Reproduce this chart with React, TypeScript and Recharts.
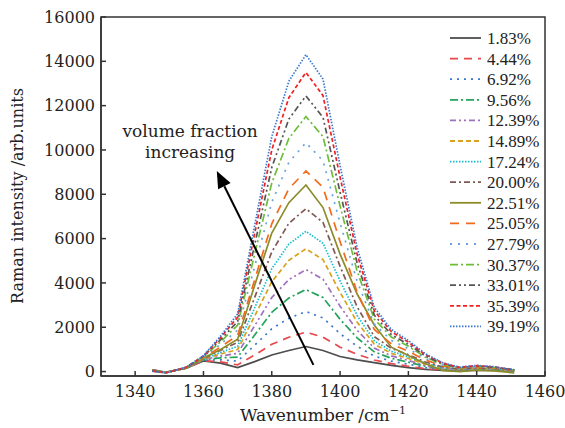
import React from "react";
import {
  LineChart,
  Line,
  XAxis,
  YAxis,
  ReferenceLine,
  ReferenceArea,
  ReferenceDot,
} from "recharts";

// wavenumber sample points (cm-1)
const wavenumbers = [
  1345, 1349, 1355, 1360, 1365, 1370, 1375, 1380, 1385, 1390, 1395, 1400,
  1405, 1410, 1415, 1420, 1425, 1430, 1435, 1440, 1445, 1451,
];

const fractions = [
  "1.83%", "4.44%", "6.92%", "9.56%", "12.39%", "14.89%", "17.24%", "20.00%",
  "22.51%", "25.05%", "27.79%", "30.37%", "33.01%", "35.39%", "39.19%",
];

// intensities, one array per volume fraction
const v183 = [80, -30, 150, 480, 380, 180, 450, 750, 950, 1130, 950, 680, 530, 400, 280, 180, 100, 50, 30, 60, 50, 30];
const v444 = [80, -30, 150, 490, 440, 300, 750, 1230, 1550, 1780, 1550, 1100, 780, 520, 360, 240, 130, 70, 40, 70, 60, 30];
const v692 = [70, -34, 156, 510, 530, 470, 1190, 1930, 2410, 2710, 2420, 1710, 1140, 700, 470, 330, 180, 90, 50, 90, 70, 36];
const v956 = [68, -36, 160, 530, 620, 650, 1650, 2670, 3320, 3700, 3340, 2360, 1520, 890, 600, 420, 240, 120, 60, 100, 80, 40];
const v1239 = [64, -38, 163, 540, 700, 820, 2070, 3340, 4150, 4600, 4170, 2950, 1860, 1060, 710, 500, 280, 140, 75, 120, 95, 43];
const v1489 = [60, -40, 167, 560, 790, 990, 2510, 4050, 5020, 5540, 5050, 3570, 2230, 1240, 820, 590, 335, 170, 90, 130, 110, 47];
const v1724 = [56, -42, 170, 575, 860, 1140, 2880, 4640, 5750, 6330, 5790, 4090, 2530, 1390, 920, 660, 380, 190, 100, 150, 120, 50];
const v2000 = [52, -44, 174, 590, 960, 1320, 3350, 5400, 6690, 7350, 6730, 4750, 2920, 1580, 1050, 760, 430, 215, 110, 165, 130, 54];
const v2251 = [47, -47, 178, 610, 1000, 1460, 3900, 6250, 7620, 8420, 7400, 5300, 3500, 2100, 1100, 720, 350, 50, 0, 60, 30, -60];
const v2505 = [44, -48, 180, 625, 1110, 1630, 4150, 6670, 8250, 9050, 8310, 5860, 3580, 1900, 1250, 910, 520, 260, 130, 190, 150, 60];
const v2779 = [38, -51, 185, 650, 1230, 1870, 4750, 7640, 9440, 10330, 9510, 6710, 4070, 2150, 1410, 1030, 590, 295, 150, 215, 170, 65];
const v3037 = [33, -54, 189, 670, 1340, 2090, 5300, 8510, 10520, 11510, 10600, 7470, 4530, 2370, 1560, 1140, 650, 325, 165, 235, 185, 70];
const v3301 = [28, -56, 193, 690, 1430, 2260, 5730, 9210, 11390, 12440, 11470, 8090, 4890, 2550, 1670, 1230, 700, 350, 175, 250, 195, 73];
const v3539 = [24, -58, 197, 705, 1530, 2450, 6230, 10000, 12360, 13500, 12450, 8770, 5290, 2750, 1800, 1330, 760, 380, 190, 265, 210, 77];
const v3919 = [20, -60, 200, 720, 1600, 2600, 6600, 10600, 13100, 14300, 13200, 9300, 5600, 2900, 1900, 1400, 800, 400, 200, 280, 220, 80];

const seriesValues = [v183, v444, v692, v956, v1239, v1489, v1724, v2000, v2251, v2505, v2779, v3037, v3301, v3539, v3919];

const xTicks = [1340, 1360, 1380, 1400, 1420, 1440, 1460];
const yTicks = [0, 2000, 4000, 6000, 8000, 10000, 12000, 14000, 16000];

const colors = [
  "#4d4d4d", "#e8474b", "#3b78c9", "#24a35a", "#a070c0", "#d9a21b", "#17becf", "#7f5a55",
  "#8c8c2a", "#f26b1d", "#6aa3da", "#6cbd3b", "#555555", "#ee2222", "#3a78d0",
];
const dashes = [
  undefined, "8 6", "2 5", "8 3 2 3", "6 3 2 3 2 3", "5 3", "1.5 1.5", "6 3 2 3",
  undefined, "9 7", "2 6", "8 3 2 3", "6 3 2 3 2 3", "4 2.5", "1.5 1.5",
];

const data = wavenumbers.map((w, i) => {
  const row: Record<string, number> = { w };
  seriesValues.forEach((vals, k) => {
    row["s" + k] = vals[i];
  });
  return row;
});

const serif = "'DejaVu Serif', serif";
const legendFont = "'Liberation Serif', serif";

const LegendBox = () => (
  <svg width={115} height={310} style={{ position: "absolute", left: 445, top: 27 }}>
    {fractions.map((f, k) => {
      const y = 11 + k * 20.6;
      return (
        <g key={f}>
          <line
            x1={5}
            x2={36}
            y1={y}
            y2={y}
            stroke={colors[k]}
            strokeWidth={1.8}
            strokeDasharray={dashes[k]}
          />
          <text x={42} y={y + 6} fontSize={17} fontFamily={legendFont} fill="#222">
            {f}
          </text>
        </g>
      );
    })}
  </svg>
);

const Arrow = (p: any) => {
  const { x1, y1, x2, y2 } = p;
  const dx = x2 - x1;
  const dy = y2 - y1;
  const len = Math.hypot(dx, dy);
  const ux = dx / len;
  const uy = dy / len;
  const hl = 17;
  const hw = 7;
  const bx = x2 - ux * hl;
  const by = y2 - uy * hl;
  return (
    <g>
      <line x1={x1} y1={y1} x2={bx} y2={by} stroke="#000" strokeWidth={2} />
      <polygon
        points={`${x2},${y2} ${bx - uy * hw},${by + ux * hw} ${bx + uy * hw},${by - ux * hw}`}
        fill="#000"
      />
    </g>
  );
};

const Annotation = (p: any) => (
  <g>
    <text x={p.cx} y={p.cy} textAnchor="middle" fontSize={17} fontFamily={serif} fill="#222">
      volume fraction
    </text>
    <text x={p.cx} y={p.cy + 21} textAnchor="middle" fontSize={17} fontFamily={serif} fill="#222">
      increasing
    </text>
  </g>
);

export default function App() {
  return (
    <div style={{ position: "relative", width: 565, height: 428, background: "#fff" }}>
      <style>{"body{margin:0}"}</style>
      <LineChart
        width={565}
        height={428}
        data={data}
        margin={{ top: 17, right: 20, bottom: 0, left: 0 }}
      >
        <XAxis
          type="number"
          dataKey="w"
          domain={[1330, 1460]}
          ticks={xTicks}
          allowDataOverflow
          height={52}
          tickSize={-5}
          tickMargin={15}
          axisLine={{ stroke: "#333", strokeWidth: 1.5 }}
          tickLine={{ stroke: "#333", strokeWidth: 1.5 }}
          tick={{ fontSize: 16, fontFamily: serif, fill: "#222" }}
          label={{
            content: () => (
              <text x={323} y={421} textAnchor="middle" fontSize={17} fontFamily={serif} fill="#222">
                Wavenumber /cm
                <tspan dy={-7} fontSize={11}>−1</tspan>
              </text>
            ),
          }}
        />
        <YAxis
          type="number"
          domain={[-200, 16000]}
          ticks={yTicks}
          allowDataOverflow
          width={101}
          tickSize={-5}
          tickMargin={11}
          axisLine={{ stroke: "#333", strokeWidth: 1.5 }}
          tickLine={{ stroke: "#333", strokeWidth: 1.5 }}
          tick={{ fontSize: 16, fontFamily: serif, fill: "#222" }}
          label={{
            content: () => (
              <text
                x={23}
                y={196}
                transform="rotate(-90 23 196)"
                textAnchor="middle"
                fontSize={16}
                fontFamily={serif}
                fill="#222"
              >
                Raman intensity /arb.units
              </text>
            ),
          }}
        />
        <ReferenceArea
          x1={1330}
          x2={1460}
          y1={-200}
          y2={16000}
          ifOverflow="visible"
          fill="none"
          stroke="#333"
          strokeWidth={1.5}
        />
        {seriesValues.map((_, k) => (
          <Line
            key={k}
            type="linear"
            dataKey={"s" + k}
            stroke={colors[k]}
            strokeWidth={1.7}
            strokeDasharray={dashes[k]}
            dot={false}
            isAnimationActive={false}
          />
        ))}
        <ReferenceLine
          segment={[
            { x: 1392.2, y: 300 },
            { x: 1363.9, y: 9050 },
          ]}
          ifOverflow="visible"
          shape={Arrow}
        />
        <ReferenceDot x={1356.1} y={10600} r={0} ifOverflow="visible" shape={Annotation} />
      </LineChart>
      <LegendBox />
    </div>
  );
}
